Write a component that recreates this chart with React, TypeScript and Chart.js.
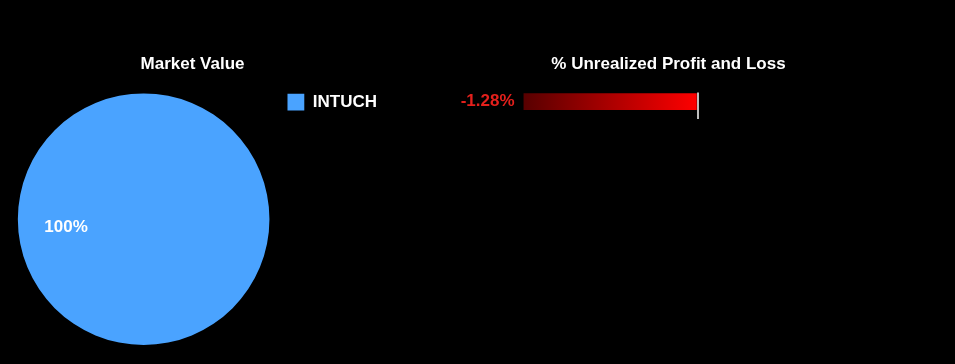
import React, { useEffect, useRef } from "react";
import { Chart, registerables } from "chart.js";

Chart.register(...registerables);

const holdings: string[] = ["INTUCH"];
const marketShare: number[] = [100];
const pnlPercent: number[] = [-1.28];
const pnlAxisMin = -2.32;
const pnlAxisMax = 1.89;

const FONT = "'Liberation Sans', Arial, Helvetica, sans-serif";
const BLUE = "#4aa3ff";
const LABEL_RED = "#e3201c";

const pieLabelPlugin = {
  id: "pieLabel",
  afterDatasetsDraw(chart: any) {
    const meta = chart.getDatasetMeta(0);
    const ctx = chart.ctx;
    const total = marketShare.reduce((a, b) => a + b, 0);
    meta.data.forEach((arc: any, i: number) => {
      const { x, y, outerRadius } = arc.getProps(["x", "y", "outerRadius"], true);
      const ang = (174 * Math.PI) / 180;
      const d = outerRadius * 0.62;
      ctx.save();
      ctx.fillStyle = "#ffffff";
      ctx.font = `bold 17px ${FONT}`;
      ctx.textAlign = "center";
      ctx.textBaseline = "middle";
      ctx.fillText(`${Math.round((marketShare[i] / total) * 100)}%`, x + Math.cos(ang) * d, y + Math.sin(ang) * d);
      ctx.restore();
    });
  },
};

const barLabelPlugin = {
  id: "barLabel",
  afterDatasetsDraw(chart: any) {
    const meta = chart.getDatasetMeta(0);
    const ctx = chart.ctx;
    meta.data.forEach((bar: any, i: number) => {
      const { x, y, base } = bar.getProps(["x", "y", "base"], true);
      const left = Math.min(x, base);
      ctx.save();
      ctx.fillStyle = LABEL_RED;
      ctx.font = `bold 17px ${FONT}`;
      ctx.textAlign = "right";
      ctx.textBaseline = "middle";
      ctx.fillText(`${pnlPercent[i].toFixed(2)}%`, left - 9, y);
      ctx.restore();
    });
  },
};

export default function App() {
  const pieRef = useRef<HTMLCanvasElement>(null);
  const barRef = useRef<HTMLCanvasElement>(null);

  useEffect(() => {
    Chart.defaults.font.family = FONT;
    const pie = new Chart(pieRef.current!, {
      type: "pie",
      data: {
        labels: holdings,
        datasets: [{ data: marketShare, backgroundColor: [BLUE], borderWidth: 0 }],
      },
      options: {
        responsive: false,
        animation: false,
        layout: { padding: { top: 0, bottom: 19, left: -2, right: -5 } },
        plugins: {
          title: {
            display: true,
            text: "Market Value",
            color: "#ffffff",
            font: { size: 17, weight: "bold" },
            padding: { top: 54, bottom: 19 },
          },
          legend: {
            position: "right",
            align: "start",
            fullSize: false,
            labels: {
              color: "#ffffff",
              font: { size: 17, weight: "bold" },
              boxWidth: 17,
              boxHeight: 17,
              padding: 0,
            },
          },
          tooltip: { enabled: false },
        },
      },
      plugins: [pieLabelPlugin],
    });

    const bar = new Chart(barRef.current!, {
      type: "bar",
      data: {
        labels: holdings,
        datasets: [
          {
            data: pnlPercent,
            barPercentage: 0.9,
            categoryPercentage: 1,
            borderWidth: 0,
            backgroundColor: (c: any) => {
              const xs = c.chart.scales && c.chart.scales.x;
              const v = c.raw;
              if (!xs || typeof v !== "number") return "#ff0000";
              const p0 = xs.getPixelForValue(Math.min(v, 0));
              const p1 = xs.getPixelForValue(Math.max(v, 0));
              if (!isFinite(p0) || !isFinite(p1) || p0 === p1) return "#ff0000";
              const g = c.chart.ctx.createLinearGradient(p0, 0, p1, 0);
              g.addColorStop(0, "#580000");
              g.addColorStop(1, "#ff0000");
              return g;
            },
          },
        ],
      },
      options: {
        indexAxis: "y",
        responsive: false,
        animation: false,
        layout: { padding: { top: 0, bottom: 245, left: 0, right: 0 } },
        scales: {
          x: {
            min: pnlAxisMin,
            max: pnlAxisMax,
            border: { display: false },
            ticks: { display: false },
            afterBuildTicks: (scale: any) => {
              scale.ticks = [{ value: 0 }];
            },
            grid: {
              color: "#bdbdbd",
              lineWidth: 2,
              tickLength: 8,
            },
          },
          y: { display: false },
        },
        plugins: {
          title: {
            display: true,
            text: "% Unrealized Profit and Loss",
            color: "#ffffff",
            font: { size: 17, weight: "bold" },
            padding: { top: 54, bottom: 18 },
          },
          legend: { display: false },
          tooltip: { enabled: false },
        },
      },
      plugins: [barLabelPlugin],
    });

    return () => {
      pie.destroy();
      bar.destroy();
    };
  }, []);

  return (
    <div
      style={{
        position: "absolute",
        left: 0,
        top: 0,
        width: 955,
        height: 364,
        background: "#000000",
        display: "flex",
      }}
    >
      <canvas ref={pieRef} width={382} height={364} style={{ width: 382, height: 364, display: "block" }} />
      <canvas ref={barRef} width={573} height={364} style={{ width: 573, height: 364, display: "block" }} />
    </div>
  );
}
